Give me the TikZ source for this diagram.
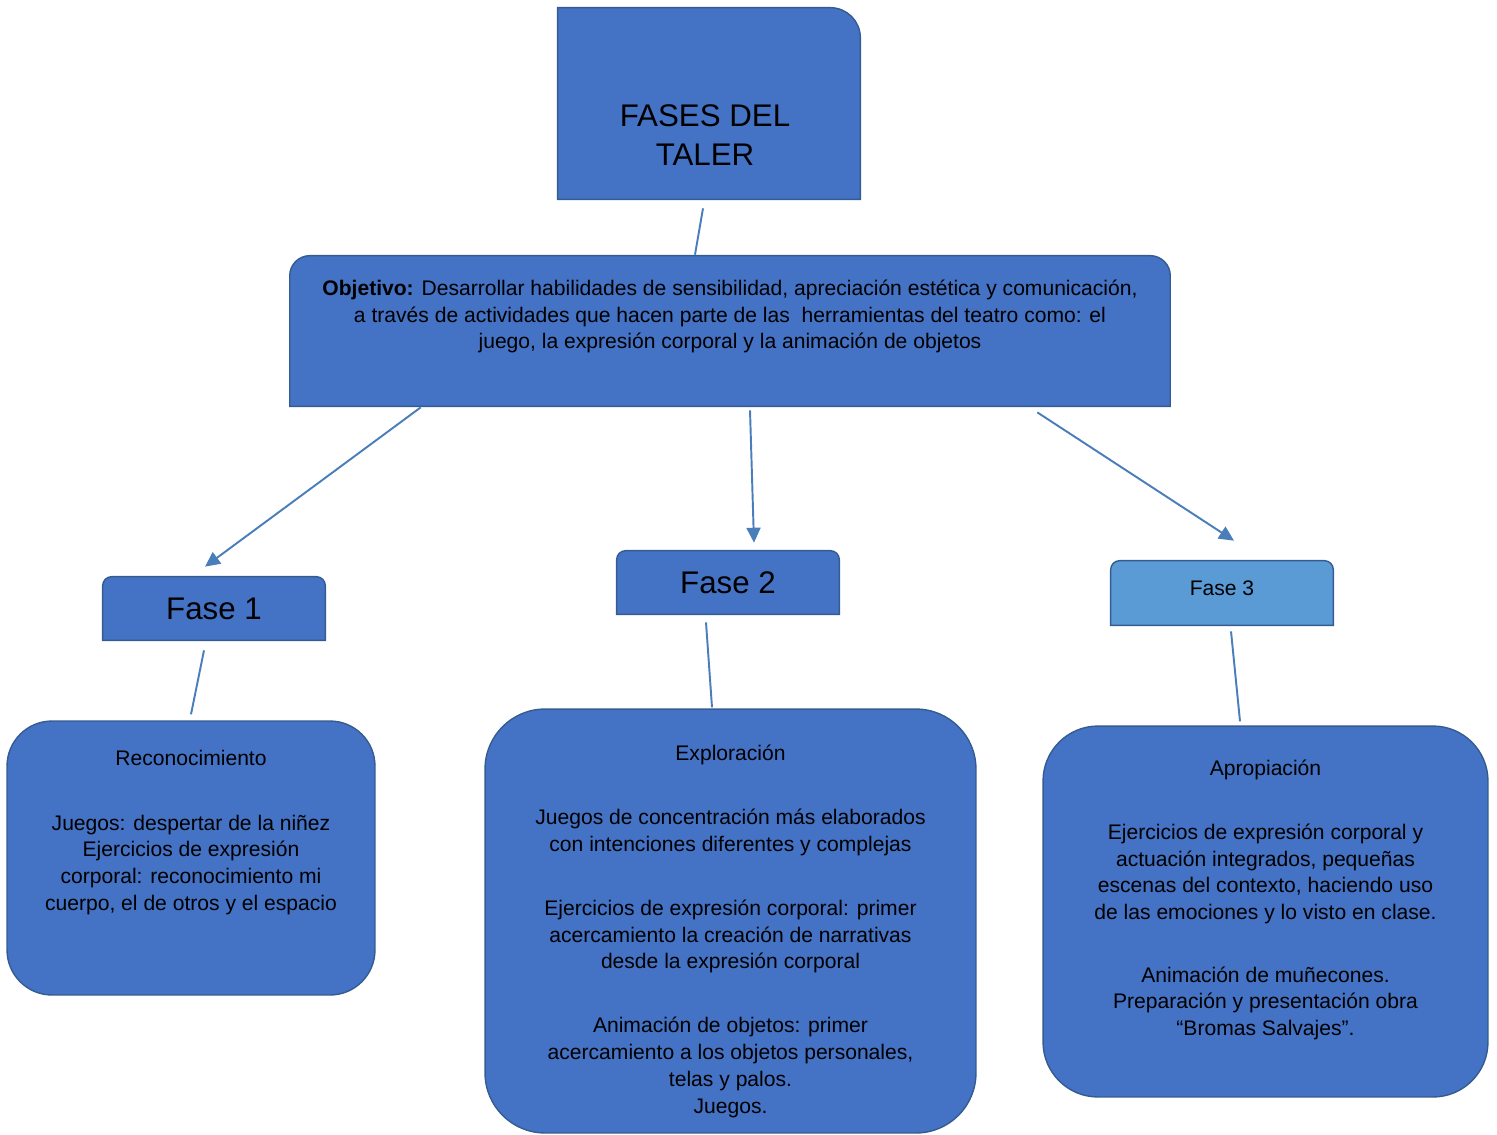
\documentclass[tikz,border=0pt]{standalone}
\usepackage{fontspec}
\setmainfont{Liberation Sans}
\usetikzlibrary{arrows.meta,positioning,calc,backgrounds}
\definecolor{boxblue}{RGB}{68,114,196}
\definecolor{lightblue}{RGB}{91,155,213}
\definecolor{edgeblue}{RGB}{52,92,145}
\definecolor{linkblue}{RGB}{74,126,187}
\tikzset{
  boxline/.style={draw=edgeblue, line width=0.8pt, fill=boxblue},
  shape box/.style={rectangle, inner sep=0pt},
  card box/.style={rectangle, boxline, inner sep=0pt},
  card text/.style={align=center, inner sep=0pt, font=\fontsize{12}{15.2}\selectfont},
  title text/.style={align=center, inner sep=0pt, font=\fontsize{17.8}{22.2}\selectfont},
  phase text/.style={font=\fontsize{17.8}{21}\selectfont},
  link/.style={linkblue, line width=1.1pt},
  link arrow/.style={link, -{Triangle[length=8.5pt, width=8pt]}}
}

\begin{document}
\begin{tikzpicture}[x=0.02cm, y=-0.02cm]
    \useasboundingbox (0,0) rectangle (1497,1134);
    % boxes
    \node[shape box, minimum width=6.04cm, minimum height=3.82cm] (title) at (709,103.5) {};
    \node[shape box, minimum width=17.6cm, minimum height=3cm] (objetivo) at (730,331) {};
    \node[shape box, phase text, minimum width=4.44cm, minimum height=1.26cm] (fase1) at (214,608.5) {Fase 1};
    \node[shape box, phase text, minimum width=4.44cm, minimum height=1.26cm] (fase2) at (728,582.5) {Fase 2};
    \node[shape box, font=\fontsize{12}{14}\selectfont, minimum width=4.44cm, minimum height=1.28cm] (fase3) at (1222,593) {\raisebox{0.2cm}{Fase 3}};
    \node[card box, rounded corners=0.9cm, minimum width=7.36cm, minimum height=5.48cm] (reconocimiento) at (191,858) {};
    \node[card box, rounded corners=1.2cm, minimum width=9.82cm, minimum height=8.48cm] (exploracion) at (730.5,921) {};
    \node[card box, rounded corners=1.1cm, minimum width=8.9cm, minimum height=7.42cm] (apropiacion) at (1265.5,911.5) {};

    \begin{pgfonlayer}{background}
      \filldraw[boxline] (title.south west) -- (title.north west) -- ($(title.north east)+(-30,0)$)
        .. controls ($(title.north east)+(-13.4,0)$) and ($(title.north east)+(0,13.4)$) .. ($(title.north east)+(0,30)$)
        -- (title.south east) -- cycle;
      \foreach \nd/\rr/\cc/\fillcol in {objetivo/20/9/boxblue, fase1/9/4/boxblue, fase2/9/4/boxblue, fase3/9/4/lightblue}
        \filldraw[boxline, fill=\fillcol] (\nd.south west) -- ($(\nd.north west)+(0,\rr)$)
          .. controls ($(\nd.north west)+(0,\cc)$) and ($(\nd.north west)+(\cc,0)$) .. ($(\nd.north west)+(\rr,0)$)
          -- ($(\nd.north east)+(-\rr,0)$)
          .. controls ($(\nd.north east)+(-\cc,0)$) and ($(\nd.north east)+(0,\cc)$) .. ($(\nd.north east)+(0,\rr)$)
          -- (\nd.south east) -- cycle;
    \end{pgfonlayer}

    % texts
    \node[title text, below=1.94cm of title.north, xshift=-0.08cm] (titletxt) {FASES DEL\\TALER};
    \node[card text, below=0.48cm of objetivo.north] (objtxt) {\textbf{Objetivo:} Desarrollar habilidades de sensibilidad, apreciación estética y comunicación,\\
      a través de actividades que hacen parte de las \ herramientas del teatro como: el\\
      juego, la expresión corporal y la animación de objetos};
    \node[card text, below=0.6cm of reconocimiento.north] (recotxt) {Reconocimiento\\[0.75cm]
      Juegos: despertar de la niñez\\ Ejercicios de expresión\\ corporal: reconocimiento mi\\ cuerpo, el de otros y el espacio};
    \node[card text, below=0.72cm of exploracion.north] (explotxt) {Exploración\\[0.75cm]
      Juegos de concentración más elaborados\\ con intenciones diferentes y complejas\\[0.75cm]
      Ejercicios de expresión corporal: primer\\ acercamiento la creación de narrativas\\ desde la expresión corporal\\[0.75cm]
      Animación de objetos: primer\\ acercamiento a los objetos personales,\\ telas y palos.\\ Juegos.};
    \node[card text, below=0.68cm of apropiacion.north] (apropitxt) {Apropiación\\[0.75cm]
      Ejercicios de expresión corporal y\\ actuación integrados, pequeñas\\ escenas del contexto, haciendo uso\\ de las emociones y lo visto en clase.\\[0.72cm]
      Animación de muñecones.\\ Preparación y presentación obra\\ “Bromas Salvajes”.};

    % connectors
    \draw[link] ($(title.south)+(-6,9)$) -- ($(objetivo.north)+(-35,-1)$);
    \draw[link arrow] ($(objetivo.south west)+(131,1)$) -- ($(fase1.north)+(-9,-10)$);
    \draw[link arrow] ($(objetivo.south)+(20,4)$) -- ($(fase2.north)+(26,-8)$);
    \draw[link arrow] ($(objetivo.south east)+(-133,6)$) -- ($(fase3.north)+(12,-20)$);
    \draw[link] ($(fase1.south)+(-10,10)$) -- ($(reconocimiento.north)+(0,-6)$);
    \draw[link] ($(fase2.south)+(-22,8)$) -- ($(exploracion.north)+(-18.5,-1)$);
    \draw[link] ($(fase3.south)+(9,6)$) -- ($(apropiacion.north)+(-25.5,-4)$);
  \end{tikzpicture}
\end{document}
